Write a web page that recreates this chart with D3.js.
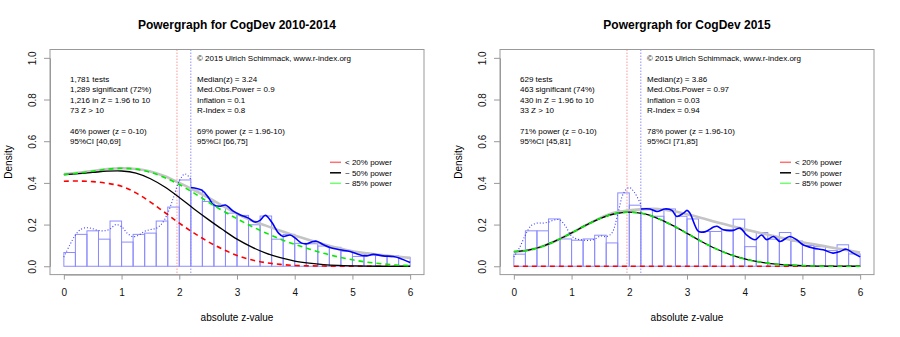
<!DOCTYPE html>
<html>
<head>
<meta charset="utf-8">
<script src="https://cdn.jsdelivr.net/npm/d3@7"></script>
<style>
body { margin: 0; background: #fff; }
text { font-family: "Liberation Sans", Arial, sans-serif; }
</style>
</head>
<body>
<div id="chart"></div>
<script>
// ---- data ----
var titles = ["Powergraph for CogDev 2010-2014", "Powergraph for CogDev 2015"];

// histogram bins, 0.2 wide, 0 to 6
var binStarts = d3.range(30).map(function(i){ return i * 0.2; });
var histLeft = [0.066, 0.153, 0.170, 0.130, 0.217, 0.116, 0.153, 0.159, 0.217, 0.284,
                0.414, 0.366, 0.311, 0.287, 0.255, 0.244, 0.199, 0.241, 0.130, 0.153,
                0.110, 0.108, 0.097, 0.091, 0.072, 0.047, 0.056, 0.052, 0.050, 0.043];
var histRight = [0.058, 0.170, 0.170, 0.227, 0.131, 0.125, 0.131, 0.149, 0.112, 0.352,
                 0.293, 0.272, 0.240, 0.275, 0.240, 0.227, 0.167, 0.167, 0.175, 0.226,
                 0.094, 0.162, 0.130, 0.162, 0.121, 0.100, 0.094, 0.075, 0.103, 0.059];

// model curves on a 0.25 grid
var zGrid = [0, 0.25, 0.5, 0.75, 1, 1.25, 1.5, 1.75, 2, 2.25, 2.5, 2.75, 3,
             3.25, 3.5, 3.75, 4, 4.25, 4.5, 4.75, 5, 5.25, 5.5, 5.75, 6];
var redLeft   = [0.408, 0.409, 0.406, 0.398, 0.384, 0.352, 0.308, 0.258, 0.207, 0.160, 0.118, 0.082, 0.052,
                 0.031, 0.017, 0.009, 0.004, 0.002, 0.001, 0, 0, 0, 0, 0, 0];
var blackLeft = [0.440, 0.444, 0.450, 0.456, 0.457, 0.447, 0.420, 0.380, 0.330, 0.276, 0.225, 0.176, 0.130,
                 0.093, 0.063, 0.041, 0.025, 0.015, 0.008, 0.004, 0.002, 0.001, 0, 0, 0];
var greenLeft = [0.440, 0.447, 0.456, 0.466, 0.470, 0.466, 0.451, 0.425, 0.392, 0.352, 0.308, 0.267, 0.228,
                 0.192, 0.160, 0.130, 0.105, 0.083, 0.062, 0.045, 0.031, 0.020, 0.012, 0.006, 0.003];
var grayLeft  = [0.442, 0.448, 0.457, 0.466, 0.470, 0.467, 0.455, 0.432, 0.400, 0.366, 0.330, 0.290, 0.252,
                 0.220, 0.195, 0.170, 0.148, 0.126, 0.106, 0.088, 0.072, 0.062, 0.054, 0.047, 0.040];

var redRight   = [0, 0, 0, 0, 0, 0, 0, 0, 0, 0, 0, 0, 0, 0, 0, 0, 0, 0, 0, 0, 0, 0, 0, 0, 0];
var blackRight = [0.070, 0.077, 0.096, 0.125, 0.160, 0.197, 0.230, 0.252, 0.260, 0.252, 0.229, 0.196, 0.158,
                  0.119, 0.084, 0.056, 0.035, 0.021, 0.011, 0.006, 0.003, 0.001, 0, 0, 0];
var greenRight = blackRight;
var grayRight  = [0.070, 0.077, 0.096, 0.125, 0.160, 0.197, 0.232, 0.258, 0.268, 0.274, 0.275, 0.265, 0.250,
                  0.232, 0.212, 0.194, 0.177, 0.161, 0.145, 0.130, 0.115, 0.103, 0.090, 0.078, 0.066];

// kernel density of observed z (dotted below 2.2, solid above)
var kdeLowZ = [0, 0.1, 0.2, 0.3, 0.4, 0.5, 0.6, 0.7, 0.8, 0.9, 1.0, 1.1, 1.2, 1.3, 1.4, 1.5, 1.6, 1.7, 1.8, 1.9, 2.0, 2.1, 2.2];
var kdeLowLeft  = [0.045, 0.100, 0.150, 0.178, 0.185, 0.180, 0.172, 0.170, 0.178, 0.200, 0.190, 0.158, 0.142,
                   0.150, 0.168, 0.176, 0.182, 0.205, 0.255, 0.330, 0.410, 0.443, 0.418];
var kdeLowRight = [0.045, 0.090, 0.150, 0.195, 0.207, 0.207, 0.212, 0.222, 0.222, 0.190, 0.145, 0.130, 0.126,
                   0.124, 0.130, 0.145, 0.142, 0.160, 0.250, 0.350, 0.378, 0.350, 0.296];

var kdeHighZLeft = [2.2, 2.39, 2.51, 2.59, 2.71, 2.80, 2.94, 3.05, 3.20, 3.31, 3.40, 3.49, 3.60, 3.72, 3.80,
                    3.92, 4.01, 4.12, 4.21, 4.32, 4.38, 4.50, 4.61, 4.78, 4.96, 5.13, 5.24, 5.36, 5.53, 5.71, 5.82, 6.0];
var kdeHighLeft  = [0.378, 0.365, 0.328, 0.296, 0.288, 0.294, 0.263, 0.247, 0.231, 0.212, 0.220, 0.245, 0.212,
                    0.159, 0.143, 0.150, 0.135, 0.111, 0.108, 0.119, 0.120, 0.103, 0.090, 0.079, 0.071, 0.055,
                    0.050, 0.057, 0.050, 0.047, 0.039, 0.018];
var kdeHighZRight = [2.2, 2.36, 2.48, 2.62, 2.74, 2.82, 2.94, 3.0, 3.05, 3.2, 3.31, 3.46, 3.52, 3.63, 3.80,
                     3.92, 4.03, 4.18, 4.29, 4.38, 4.50, 4.61, 4.78, 4.90, 5.01, 5.19, 5.36, 5.53, 5.65, 5.76, 5.88, 6.0];
var kdeHighRight  = [0.275, 0.275, 0.263, 0.275, 0.268, 0.239, 0.255, 0.268, 0.255, 0.167, 0.165, 0.188, 0.192,
                     0.175, 0.172, 0.183, 0.151, 0.127, 0.150, 0.128, 0.143, 0.119, 0.143, 0.127, 0.103, 0.087,
                     0.079, 0.063, 0.071, 0.082, 0.063, 0.045];

var statsLeft = [["1,781 tests", "1,289 significant (72%)", "1,216 in Z = 1.96 to 10", "73 Z > 10", "",
                  "46% power (z = 0-10)", "95%CI [40,69]"],
                 ["Median(z) = 3.24", "Med.Obs.Power = 0.9", "Inflation = 0.1", "R-Index = 0.8", "",
                  "69% power (z = 1.96-10)", "95%CI [66,75]"]];
var statsRight = [["629 tests", "463 significant (74%)", "430 in Z = 1.96 to 10", "33 Z > 10", "",
                   "71% power (z = 0-10)", "95%CI [45,81]"],
                  ["Median(z) = 3.86", "Med.Obs.Power = 0.97", "Inflation = 0.03", "R-Index = 0.94", "",
                   "78% power (z = 1.96-10)", "95%CI [71,85]"]];
var copyright = "\u00a9 2015 Ulrich Schimmack, www.r-index.org";
var legendLabels = ["< 20% power", "~ 50% power", "~ 85% power"];
var legendColors = ["#ff7070", "#000000", "#70ff70"];
var xTicks = [0, 1, 2, 3, 4, 5, 6];
var yTicks = [0, 0.2, 0.4, 0.6, 0.8, 1.0];
var critZ = 1.96, cutZ = 2.2;

var svg = d3.select("#chart").append("svg")
    .attr("width", 900)
    .attr("height", 337);

function drawPanel(offset, title, hist, red, black, green, gray, kdeLow, kdeHighZ, kdeHigh, stats) {

    var g = svg.append("g").attr("transform", "translate(" + offset + ",0)");

    var x = d3.scaleLinear().domain([-0.24, 6.24]).range([50, 424]);
    var y = d3.scaleLinear().domain([-0.04, 1.04]).range([274.6, 49.5]);

    // title
    g.append("text")
        .attr("x", 237).attr("y", 29)
        .attr("text-anchor", "middle")
        .style("font-size", "12px").style("font-weight", "bold")
        .text(title);

    // histogram
    g.selectAll("rect.bin")
        .data(hist)
        .enter()
        .append("rect")
        .attr("class", "bin")
        .attr("x", function(d, i){ return x(binStarts[i]); })
        .attr("y", function(d){ return y(d); })
        .attr("width", function(d, i){ return x(binStarts[i] + 0.2) - x(binStarts[i]); })
        .attr("height", function(d){ return y(0) - y(d); })
        .style("fill", "none")
        .style("stroke", "#8c8cff")
        .style("stroke-width", 1);

    // vertical markers
    g.append("line")
        .attr("x1", x(critZ)).attr("x2", x(critZ))
        .attr("y1", 49.5).attr("y2", 274.6)
        .style("stroke", "#ff9a9a").style("stroke-dasharray", "1.5,1.5");
    g.append("line")
        .attr("x1", x(cutZ)).attr("x2", x(cutZ))
        .attr("y1", 49.5).attr("y2", 274.6)
        .style("stroke", "#8f8fff").style("stroke-dasharray", "1.5,1.5");

    var line = d3.line()
        .x(function(d){ return x(d[0]); })
        .y(function(d){ return y(d[1]); })
        .curve(d3.curveCatmullRom);

    function zip(zs, ds){ return zs.map(function(z, i){ return [z, ds[i]]; }); }

    // overall fit
    g.append("path").attr("d", line(zip(zGrid, gray)))
        .style("fill", "none").style("stroke", "#c4c4c4").style("stroke-width", 2.6);

    // observed density
    g.append("path").attr("d", line(zip(kdeLowZ, kdeLow)))
        .style("fill", "none").style("stroke", "#3a3aff").style("stroke-width", 1.1)
        .style("stroke-dasharray", "1,2");
    g.append("path").attr("d", line(zip(kdeHighZ, kdeHigh)))
        .style("fill", "none").style("stroke", "#0000ff").style("stroke-width", 1.6);

    // model components
    g.append("path").attr("d", line(zip(zGrid, red)))
        .style("fill", "none").style("stroke", "#ff0000").style("stroke-width", 1.6)
        .style("stroke-dasharray", "5,4");
    g.append("path").attr("d", line(zip(zGrid, black)))
        .style("fill", "none").style("stroke", "#000000").style("stroke-width", 1.3);
    g.append("path").attr("d", line(zip(zGrid, green)))
        .style("fill", "none").style("stroke", "#00ee00").style("stroke-width", 1.6)
        .style("stroke-dasharray", "5,4");

    // box
    g.append("rect")
        .attr("x", 50).attr("y", 49.5)
        .attr("width", 374).attr("height", 225.1)
        .style("fill", "none").style("stroke", "#999").style("stroke-width", 1);

    // axes
    var xAxisScale = d3.scaleLinear().domain([0, 6]).range([x(0), x(6)]);
    var xAxis = g.append("g")
        .attr("transform", "translate(0,274.6)")
        .call(d3.axisBottom(xAxisScale).tickValues(xTicks).tickFormat(d3.format("d"))
              .tickSize(5).tickSizeOuter(0).tickPadding(9));
    var yAxisScale = d3.scaleLinear().domain([0, 1]).range([y(0), y(1)]);
    var yAxis = g.append("g")
        .attr("transform", "translate(50,0)")
        .call(d3.axisLeft(yAxisScale).tickValues(yTicks).tickFormat(d3.format(".1f"))
              .tickSize(6).tickSizeOuter(0));
    yAxis.selectAll("text")
        .attr("x", 0).attr("dy", null)
        .attr("transform", "translate(-14,0) rotate(-90)")
        .attr("text-anchor", "middle");
    [xAxis, yAxis].forEach(function(a){
        a.selectAll("path, line").style("stroke", "#999");
        a.selectAll("text").style("font-size", "10px").style("fill", "#111")
            .style("font-family", "'Liberation Sans', Arial, sans-serif");
    });

    g.append("text")
        .attr("x", 237).attr("y", 321)
        .attr("text-anchor", "middle")
        .style("font-size", "10px")
        .text("absolute z-value");
    g.append("text")
        .attr("transform", "translate(12,162) rotate(-90)")
        .attr("text-anchor", "middle")
        .style("font-size", "10px")
        .text("Density");

    // stats text
    g.append("text").attr("x", 197).attr("y", 60.7)
        .style("font-size", "8px").text(copyright);
    [70, 197].forEach(function(cx, c){
        g.selectAll(null)
            .data(stats[c])
            .enter()
            .append("text")
            .attr("x", cx)
            .attr("y", function(d, i){ return 82 + i * 10.35; })
            .style("font-size", "8px")
            .text(function(d){ return d; });
    });

    // legend
    legendLabels.forEach(function(lab, i){
        var ly = 162.3 + i * 10.5;
        g.append("line")
            .attr("x1", 330).attr("x2", 341).attr("y1", ly).attr("y2", ly)
            .style("stroke", legendColors[i]).style("stroke-width", 1.5);
        g.append("text")
            .attr("x", 345).attr("y", ly + 3)
            .style("font-size", "8px").text(lab);
    });
}

drawPanel(0, titles[0], histLeft, redLeft, blackLeft, greenLeft, grayLeft,
          kdeLowLeft, kdeHighZLeft, kdeHighLeft, statsLeft);
drawPanel(450, titles[1], histRight, redRight, blackRight, greenRight, grayRight,
          kdeLowRight, kdeHighZRight, kdeHighRight, statsRight);
</script>
</body>
</html>
